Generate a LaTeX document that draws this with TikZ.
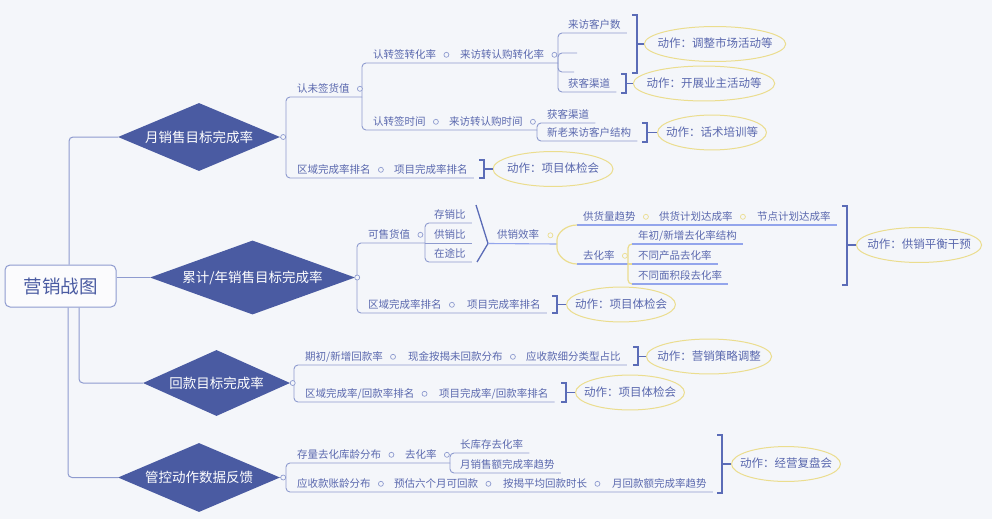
\documentclass[tikz,border=0pt]{standalone}
\usepackage{fontspec}
\setmainfont{Noto Sans CJK SC}
\usetikzlibrary{shapes.geometric}

\definecolor{bgc}{HTML}{F4F6FA}
\definecolor{goalc}{HTML}{4A5BA2}
\definecolor{linec}{HTML}{8E9BCF}
\definecolor{txtc}{HTML}{5A68AE}
\definecolor{bracec}{HTML}{5B6CB7}
\definecolor{actc}{HTML}{EBDD8E}
\definecolor{ulc}{HTML}{93A5EC}

\begin{document}
\begin{tikzpicture}[x=1pt,y=-1pt]

      \tikzset{rootbox/.style={draw=linec, line width=1pt, rounded corners=5pt, fill=white!60!bgc, minimum width=111pt, minimum height=42pt, text=goalc, font=\fontsize{18.5}{22}\selectfont},
               goal/.style={diamond, aspect=2.4, fill=goalc, text=white, inner sep=0pt, font=\fontsize{13.5}{16}\selectfont},
               topic/.style={anchor=south west, inner xsep=0pt, inner ysep=3pt, text height=8.5pt, text depth=1.5pt, text=txtc, font=\fontsize{10.5}{12}\selectfont},
               act/.style={draw=actc, line width=1pt, ellipse, inner xsep=-7.5pt, inner ysep=6.6pt, text height=9.5pt, text depth=2pt, text=txtc, font=\fontsize{11.5}{13}\selectfont},
               knob/.style={draw=linec, fill=bgc, circle, inner sep=0pt, minimum size=5pt, line width=.7pt},
               yknob/.style={knob, draw=actc},
               trunk/.style={draw=linec, line width=1pt, rounded corners=4pt},
               branch/.style={draw=linec, line width=.9pt, rounded corners=4pt},
               ul/.style={draw=ulc, line width=1.1pt},
               yline/.style={draw=actc, line width=1.2pt, rounded corners=4pt},
               brace/.style={draw=bracec, line width=1.3pt}}

      \fill[bgc] (0,0) rectangle (992,519);

%% Root and goals
      \node[rootbox] (top) at (60.5,286) {营销战图};
      \node[goal, minimum width=162pt, minimum height=68pt] (g1) at (199,137) {月销售目标完成率};
      \node[goal, minimum width=205pt, minimum height=74pt] (g2) at (252.5,277.5) {累计/年销售目标完成率};
      \node[goal, minimum width=147pt, minimum height=66pt] (g3) at (216.5,383) {回款目标完成率};
      \node[goal, minimum width=162pt, minimum height=69pt] (g4) at (199,477.5) {管控动作数据反馈};

%% Branch 1
      \coordinate (jm0) at (286,137);
      \coordinate (jm1) at (362,97);
      \coordinate (jm2) at (558,63);
      \coordinate (jm3) at (537,130);
      \coordinate (sm1) at (577,53);
      \coordinate (sm2) at (574,72);
      \node[topic] (m1) at (297,97) {认未签货值};
      \node[topic] (m2) at (373,63) {认转签转化率};
      \node[topic] (m3) at (460,63) {来访转认购转化率};
      \node[topic] (m4) at (568,33) {来访客户数};
      \node[topic] (m5) at (568,92) {获客渠道};
      \node[topic] (m6) at (373,130) {认转签时间};
      \node[topic] (m7) at (449,130) {来访转认购时间};
      \node[topic] (m8) at (547,123) {获客渠道};
      \node[topic] (m9) at (547,141) {新老来访客户结构};
      \node[topic] (m10) at (297,178) {区域完成率排名};
      \node[topic] (m11) at (394,178) {项目完成率排名};
      \node[act] (e1) at (715,44) {动作：调整市场活动等};
      \node[act] (e2) at (704,83.5) {动作：开展业主活动等};
      \node[act] (e3) at (712,132.5) {动作：话术培训等};
      \node[act, minimum width=120pt] (e4) at (553,169) {动作：项目体检会};

%% Branch 2
      \coordinate (jc0) at (357,277.5);
      \coordinate (jc1) at (425,243);
      \coordinate (ang1) at (476,205);
      \coordinate (ang2) at (488,243.5);
      \coordinate (ang3) at (477,262);
      \coordinate (jc2) at (557,244);
      \coordinate (cv1) at (577,225);
      \coordinate (cv2) at (577,264);
      \coordinate (jc3) at (628,264);
      \coordinate (cs1) at (632,244);
      \coordinate (cs2) at (632,264);
      \coordinate (cs3) at (632,284);
      \node[topic] (c1) at (368,243) {可售货值};
      \node[topic] (c2) at (434,223) {存销比};
      \node[topic] (c3) at (434,243) {供销比};
      \node[topic] (c4) at (434,262) {在途比};
      \node[topic] (c5) at (497,243.5) {供销效率};
      \node[topic] (c6) at (583,225) {供货量趋势};
      \node[topic] (c7) at (659,225) {供货计划达成率};
      \node[topic] (c8) at (757,225) {节点计划达成率};
      \node[topic] (c9) at (583,264) {去化率};
      \node[topic] (c10) at (638,244) {年初/新增去化率结构};
      \node[topic] (c11) at (638,264) {不同产品去化率};
      \node[topic] (c12) at (638,284) {不同面积段去化率};
      \node[topic] (c13) at (368,313) {区域完成率排名};
      \node[topic] (c14) at (467,313) {项目完成率排名};
      \node[act] (e5) at (919,245) {动作：供销平衡干预};
      \node[act] (e6) at (621,304.5) {动作：项目体检会};

%% Branch 3
      \coordinate (jr0) at (294,383);
      \node[topic] (r1) at (305,365) {期初/新增回款率};
      \node[topic] (r2) at (408,365) {现金按揭未回款分布};
      \node[topic] (r3) at (526,365) {应收款细分类型占比};
      \node[topic] (r4) at (305,402) {区域完成率/回款率排名};
      \node[topic] (r5) at (439,402) {项目完成率/回款率排名};
      \node[act] (e7) at (709,356.5) {动作：营销策略调整};
      \node[act] (e8) at (630,392.5) {动作：项目体检会};

%% Branch 4
      \coordinate (jf0) at (286,477.5);
      \coordinate (jf1) at (450,463);
      \node[topic] (f1) at (297,463) {存量去化库龄分布};
      \node[topic] (f2) at (405,463) {去化率};
      \node[topic] (f3) at (460,453) {长库存去化率};
      \node[topic] (f4) at (460,473) {月销售额完成率趋势};
      \node[topic] (f5) at (297,492) {应收款账龄分布};
      \node[topic] (f6) at (394,492) {预估六个月可回款};
      \node[topic] (f7) at (503,492) {按揭平均回款时长};
      \node[topic] (f8) at (612,492) {月回款额完成率趋势};
      \node[act] (e9) at (786,464) {动作：经营复盘会};

%Edges
      \draw[trunk] ([xshift=8.5]top.north) |- (g1.west);
      \draw[trunk] (top.east |- g2.west) -- (g2.west);
      \draw[trunk] ([xshift=18.5]top.south) |- (g3.west);
      \draw[trunk] ([xshift=7.5]top.south) |- (g4.west);

      \draw[branch] (g1.east) -- (jm0);
      \draw[branch] (jm0) |- (jm1);
      \draw[branch] (jm0) |- ([xshift=6]m11.south east);
      \draw[branch] (jm1) |- (jm2);
      \draw[branch] (jm1) |- (jm3);
      \draw[branch] (jm2) |- ([xshift=6]m4.south east);
      \draw[branch] (jm2) |- (sm1);
      \draw[branch] (jm2) |- (sm2);
      \draw[branch] (jm2) |- ([xshift=6]m5.south east);
      \draw[branch] (jm3) |- ([xshift=6]m8.south east);
      \draw[branch] (jm3) |- ([xshift=6]m9.south east);

      \draw[branch] (g2.east) -- (jc0);
      \draw[branch] (jc0) |- (jc1);
      \draw[branch] (jc0) |- ([xshift=6]c14.south east);
      \draw[branch] (jc1) |- ([xshift=6]c2.south east);
      \draw[branch] (jc1) -- ([xshift=6]c3.south east);
      \draw[branch] (jc1) |- ([xshift=6]c4.south east);
      \draw[brace] (ang1) -- (ang2) -- (ang3);
      \draw[ul] (ang2) -- (jc2);
      \draw[yline] (cv1) .. controls (566,225) and (557,233) .. (jc2) .. controls (557,255) and (566,264) .. (cv2);
      \draw[ul] (cv1) -- ([xshift=6]c8.south east);
      \draw[ul] (cv2) -- (jc3);
      \draw[yline] (jc3) |- (cs1);
      \draw[yline] (jc3) -- (cs2);
      \draw[yline] (jc3) |- (cs3);
      \draw[ul] (cs1) -- ([xshift=6]c10.south east);
      \draw[ul] (cs2) -- ([xshift=6]c11.south east);
      \draw[ul] (cs3) -- ([xshift=6]c12.south east);

      \draw[branch] (g3.east) -- (jr0);
      \draw[branch] (jr0) |- ([xshift=6]r3.south east);
      \draw[branch] (jr0) |- ([xshift=6]r5.south east);

      \draw[branch] (g4.east) -- (jf0);
      \draw[branch] (jf0) |- (jf1);
      \draw[branch] (jf0) |- ([xshift=6]f8.south east);
      \draw[branch] (jf1) |- ([xshift=6]f3.south east);
      \draw[branch] (jf1) |- ([xshift=6]f4.south east);

%Braces
      \draw[brace] (632,15) -| (637,73) -- (632,73) (637,44) coordinate (bm1) -- (e1);
      \draw[brace] (621,74) -| (626,93) -- (621,93) (626,83.5) coordinate (bm2) -- (e2);
      \draw[brace] (642,123) -| (647,142) -- (642,142) (647,132.5) coordinate (bm3) -- (e3);
      \draw[brace] (479,160) -| (484,178) -- (479,178) (484,169) coordinate (bm4) -- (e4);
      \draw[brace] (842,206) -| (847,285) -- (842,285) (847,245) coordinate (bm5) -- (e5);
      \draw[brace] (552,296) -| (557,313) -- (552,313) (557,304.5) coordinate (bm6) -- (e6);
      \draw[brace] (633,347) -| (638,365) -- (633,365) (638,356.5) coordinate (bm7) -- (e7);
      \draw[brace] (561,383) -| (566,402) -- (561,402) (566,392.5) coordinate (bm8) -- (e8);
      \draw[brace] (717,435) -| (722,493) -- (717,493) (722,464) coordinate (bm9) -- (e9);

%Knobs
      \node[knob] (k1) at ([xshift=3]g1.east) {};
      \node[knob] (k2) at ([xshift=10]m1.east) {};
      \node[knob] (k3) at ([xshift=10]m2.east) {};
      \node[knob] (k4) at ([xshift=10]m3.east) {};
      \node[knob] (k5) at ([xshift=10]m6.east) {};
      \node[knob] (k6) at ([xshift=10]m7.east) {};
      \node[knob] (k7) at ([xshift=10]m10.east) {};
      \node[knob] (k8) at ([xshift=2]g2.east) {};
      \node[knob] (k9) at ([xshift=10]c1.east) {};
      \node[yknob] (k10) at ([xshift=11]c5.east) {};
      \node[yknob] (k11) at ([xshift=10]c6.east) {};
      \node[yknob] (k12) at ([xshift=10]c7.east) {};
      \node[yknob] (k13) at ([xshift=10]c9.east) {};
      \node[knob] (k14) at ([xshift=10]c13.east) {};
      \node[knob] (k15) at ([xshift=2.5]g3.east) {};
      \node[knob] (k16) at ([xshift=10]r1.east) {};
      \node[knob] (k17) at ([xshift=10]r2.east) {};
      \node[knob] (k18) at ([xshift=10]r4.east) {};
      \node[knob] (k19) at ([xshift=3]g4.east) {};
      \node[knob] (k20) at ([xshift=10]f1.east) {};
      \node[knob] (k21) at ([xshift=10]f2.east) {};
      \node[knob] (k22) at ([xshift=10]f5.east) {};
      \node[knob] (k23) at ([xshift=10]f6.east) {};
      \node[knob] (k24) at ([xshift=10]f7.east) {};

\end{tikzpicture}
\end{document}
